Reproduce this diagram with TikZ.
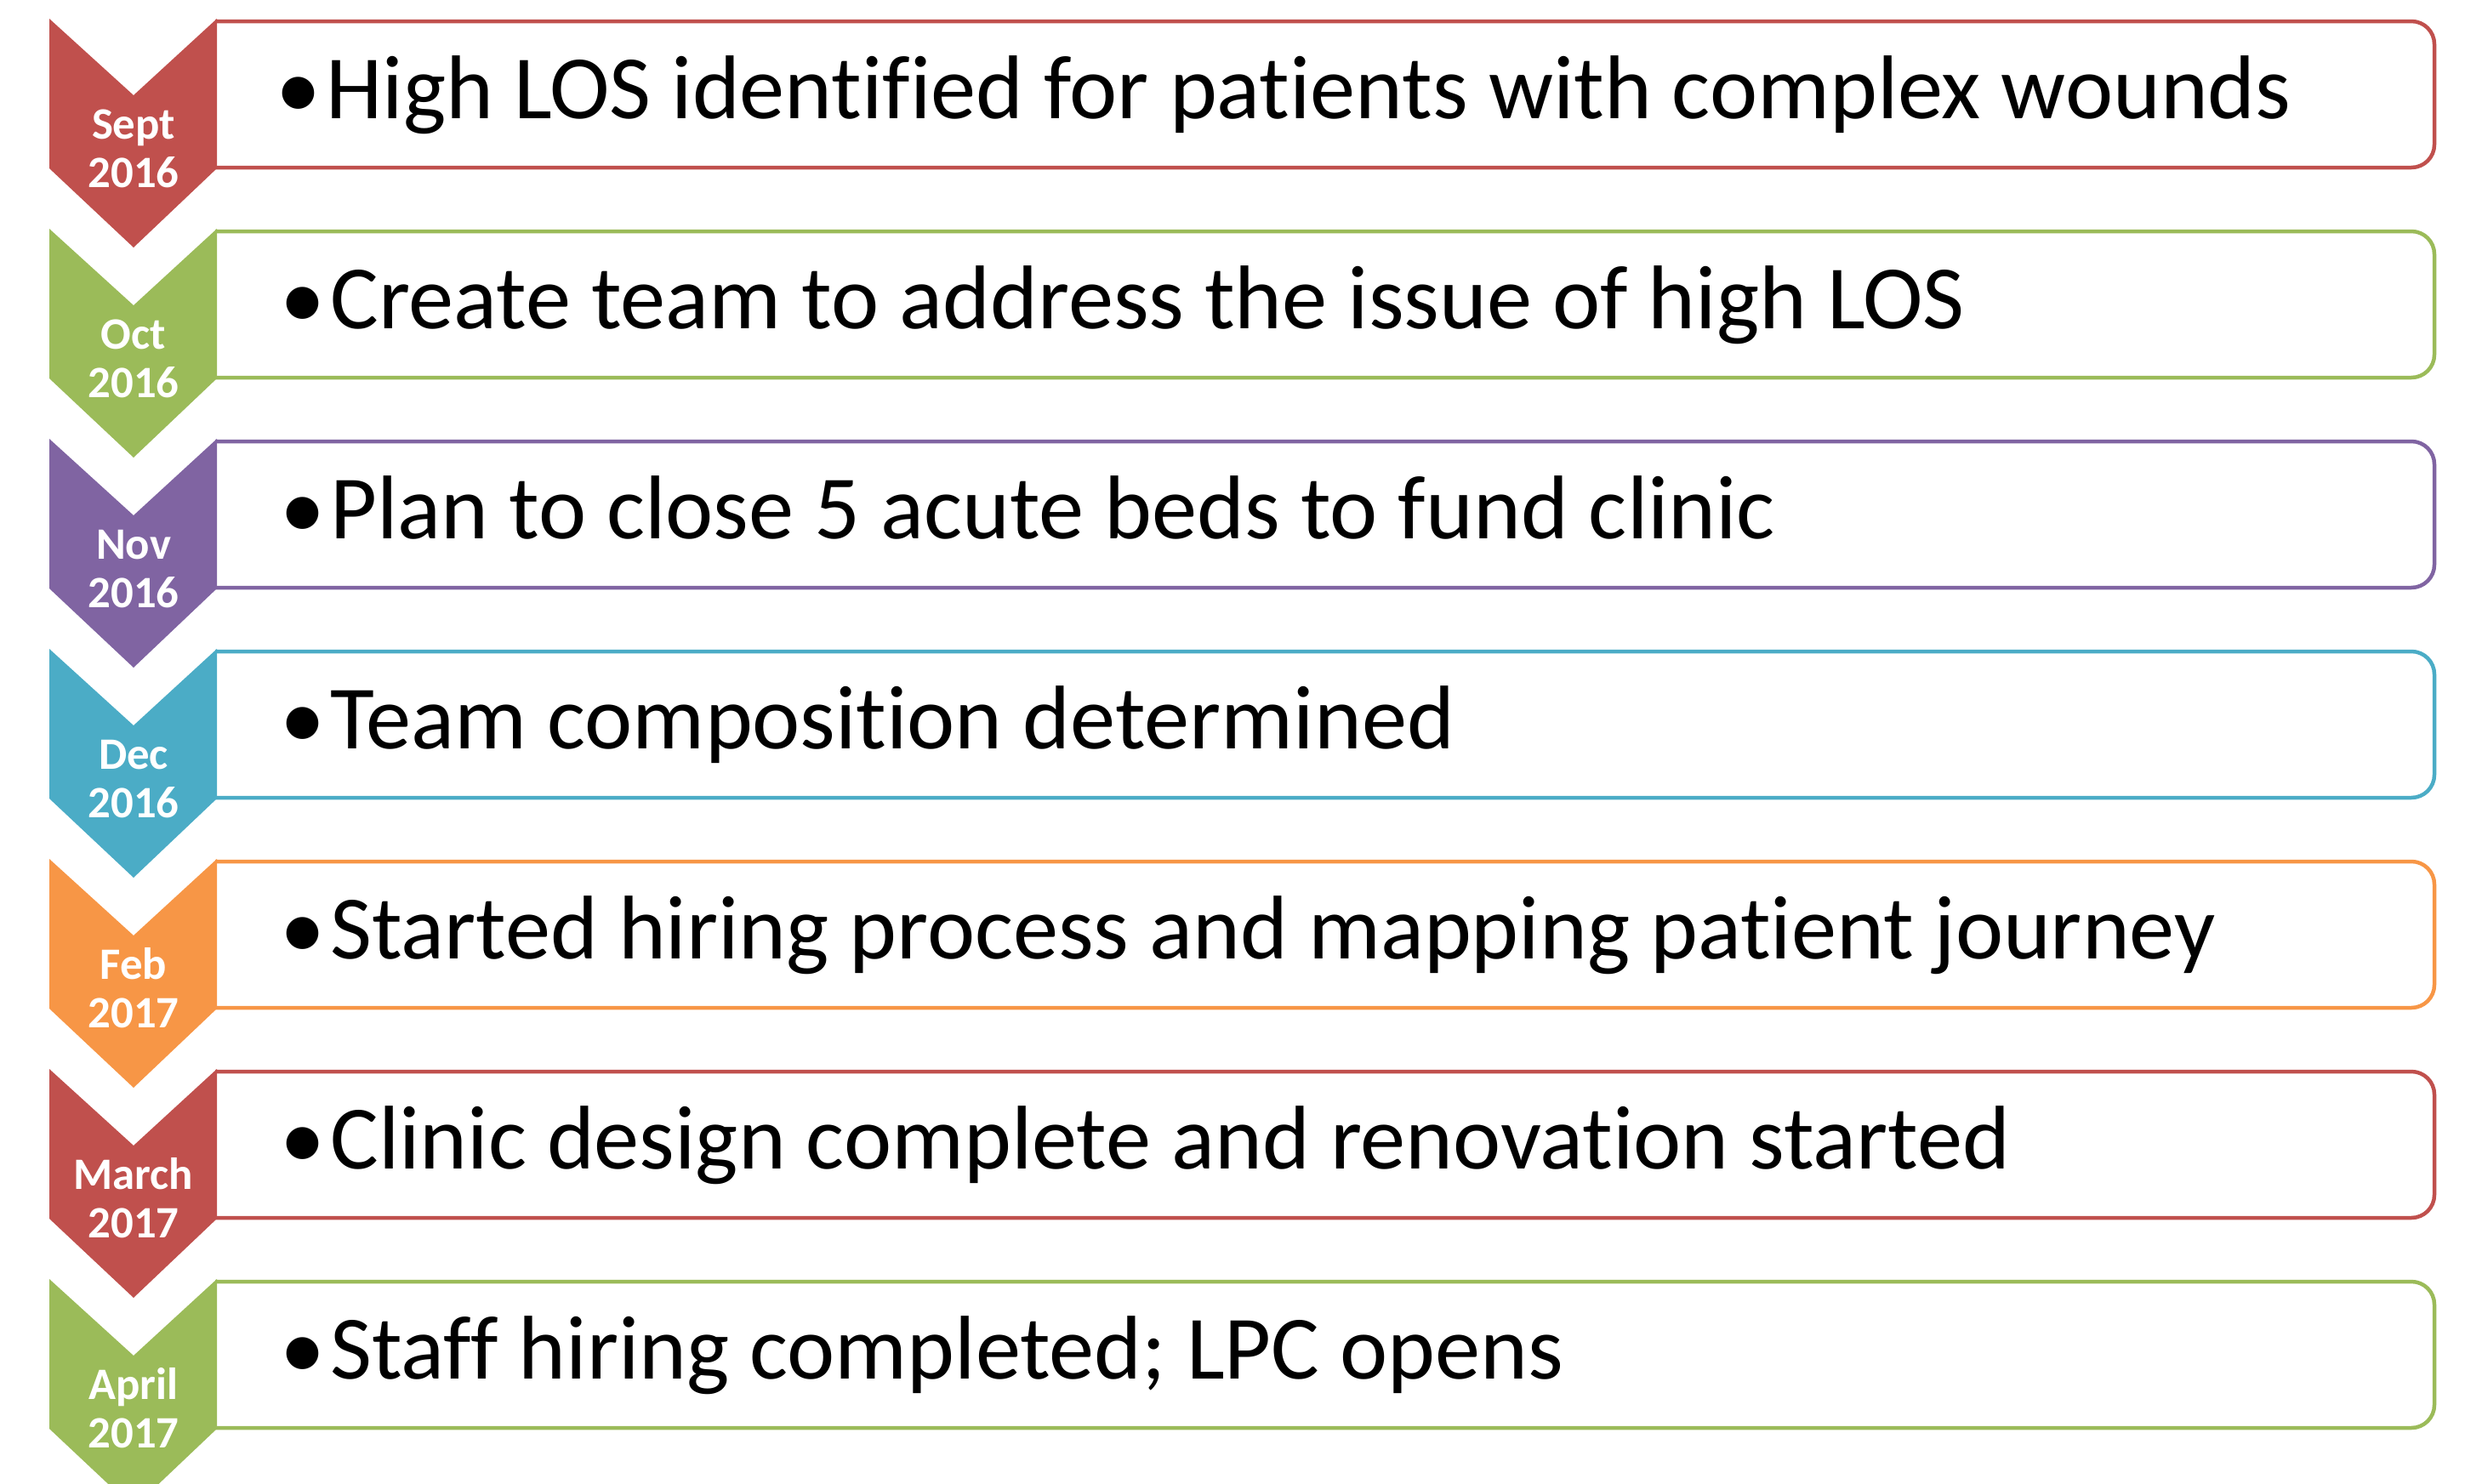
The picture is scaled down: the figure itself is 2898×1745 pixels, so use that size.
\documentclass[tikz,border=0pt]{standalone}
\usepackage{fontspec}
\setmainfont{Carlito}[Ligatures=NoCommon]
\definecolor{cRed}{HTML}{C0504D}
\definecolor{cGreen}{HTML}{9BBB59}
\definecolor{cPurple}{HTML}{8064A2}
\definecolor{cTeal}{HTML}{4BACC6}
\definecolor{cOrange}{HTML}{F79646}
\tikzset{
  boxline/.style={draw=#1, line width=2.25pt, rounded corners=13.5pt},
  itemtext/.style={anchor=base west, inner sep=0pt, font=\fontsize{53.2}{62}\selectfont},
  bullettext/.style={anchor=base, inner sep=0pt, font=\fontsize{53.2}{62}\selectfont},
  datetext/.style={anchor=base, inner sep=0pt, text=white, font=\fontsize{26.4}{28}\selectfont\bfseries},
}
% #1 top y, #2 colour, #3 month, #4 year, #5 text, #6 id, #7 x offset
\newcommand\tlrow[7]{%
  \begin{scope}
    \clip (253,#1-10) rectangle (2898,#1+190);
    \draw[boxline=#2] (150,#1+3) rectangle (2862,#1+175);
  \end{scope}
  \fill[#2] (58,#1) -- (157,#1+90) -- (255,#1) -- (255,#1+176) -- (157,#1+269) -- (58,#1+176) -- cycle;
  \node[bullettext] (b#6) at (351+#7,#1+117) {•};
  \node[itemtext] (t#6) at (383+#7,#1+117) {#5};
  \node[datetext] (m#6) at (157,#1+141) {#3};
  \node[datetext] (y#6) at (157,#1+198) {#4};
}
\begin{document}
\begin{tikzpicture}[x=0.5pt,y=-0.5pt]
  \useasboundingbox (0,0) rectangle (2898,1745);
  \clip (0,0) rectangle (2898,1745);
  \tlrow{22}{cRed}{Sept}{2016}{High LOS identified for patients with complex wounds}{1}{0}
  \tlrow{269}{cGreen}{Oct}{2016}{Create team to address the issue of high LOS}{2}{5}
  \tlrow{516}{cPurple}{Nov}{2016}{Plan to close 5 acute beds to fund clinic}{3}{5}
  \tlrow{763}{cTeal}{Dec}{2016}{Team composition determined}{4}{5}
  \tlrow{1010}{cOrange}{Feb}{2017}{Started hiring process and mapping patient journey}{5}{5}
  \tlrow{1257}{cRed}{March}{2017}{Clinic design complete and renovation started}{6}{5}
  \tlrow{1504}{cGreen}{April}{2017}{Staff hiring completed; LPC opens}{7}{5}
\end{tikzpicture}
\end{document}
